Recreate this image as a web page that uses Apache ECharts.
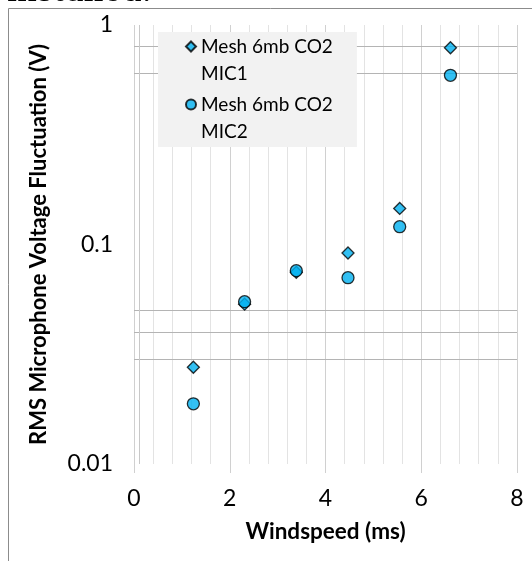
<!DOCTYPE html>
<html>
<head>
<meta charset="utf-8">
<script src="https://cdn.jsdelivr.net/npm/echarts@6/dist/echarts.min.js"></script>
<style>html,body{margin:0;padding:0;background:#fff}#c{width:532px;height:561px}</style>
</head>
<body>
<div id="c"></div>
<script>
var windspeed = [1.24, 2.31, 3.39, 4.47, 5.55, 6.61];
var mic1 = [0.0276, 0.0535, 0.0747, 0.0915, 0.146, 0.788];
var mic2 = [0.0188, 0.0549, 0.0760, 0.0706, 0.1205, 0.590];
var seriesNames = ['Mesh 6mb CO2 MIC1', 'Mesh 6mb CO2 MIC2'];
var yGridValues = [0.03, 0.04, 0.05, 0.6, 0.8];
var xExtraGrid = [0.1];
var xTitle = 'Windspeed (ms)';
var yTitle = 'RMS Microphone Voltage Fluctuation (V)';

var FONT = 'Lato';
function pairs(xs, ys) { return xs.map(function (x, i) { return [x, ys[i]]; }); }

var chart = echarts.init(document.getElementById('c'), null, { renderer: 'canvas' });
var diamondIcon = 'path://M5,8.5L10,13.5L5,18.5L0,13.5Z M5,0L5,0 M5,54L5,54';
var circleIcon = 'path://M0,13.5A5,5,0,1,1,10,13.5A5,5,0,1,1,0,13.5Z M5,0L5,0 M5,54L5,54';

chart.setOption({
  animation: false,
  backgroundColor: '#fff',
  textStyle: { fontFamily: FONT },
  graphic: [
    { type: 'text', left: 7, top: -23, style: { text: 'installed.', font: '31px "DejaVu Serif"', fill: '#000' }, z: 0 },
    { type: 'polyline', shape: { points: [[8.5, 561], [8.5, 8.5], [532, 8.5]] }, style: { stroke: '#8c8c8c', lineWidth: 1, fill: null }, z: 0 }
  ],
  grid: { left: 134, right: 15, top: 25, bottom: 97, containLabel: false },
  legend: {
    orient: 'vertical', left: 158, top: 32,
    backgroundColor: '#f2f2f2',
    padding: [0, 24, 1, 27],
    itemWidth: 10, itemHeight: 54, itemGap: 2,
    data: [
      { name: seriesNames[0], icon: diamondIcon },
      { name: seriesNames[1], icon: circleIcon }
    ],
    formatter: function (n) { return n.replace(' MIC', '\nMIC'); },
    textStyle: { fontFamily: FONT, fontSize: 19, lineHeight: 27, color: '#000' }
  },
  xAxis: {
    type: 'value', min: 0, max: 8, interval: 2,
    name: xTitle, nameLocation: 'middle', nameGap: 56,
    nameTextStyle: { fontFamily: FONT, fontSize: 22.5, fontWeight: 'bold', color: '#000' },
    axisLine: { show: false },
    axisTick: { show: true, length: 9, lineStyle: { color: '#d0d0d0' } },
    axisLabel: { fontFamily: FONT, fontSize: 23, color: '#000', margin: 23 },
    splitLine: { show: true, lineStyle: { color: '#d0d0d0', width: 1 } },
    minorTick: { show: false, splitNumber: 5 },
    minorSplitLine: { show: true, lineStyle: { color: '#e3e3e3', width: 1 } }
  },
  yAxis: {
    type: 'log', logBase: 10, min: 0.01, max: 1,
    name: yTitle, nameLocation: 'middle', nameGap: 84, nameRotate: 90,
    nameTextStyle: { fontFamily: FONT, fontSize: 22, fontWeight: 'bold', color: '#000' },
    axisLine: { show: false }, axisTick: { show: false },
    axisLabel: { fontFamily: FONT, fontSize: 23, color: '#000', margin: 21,
      formatter: function (v) { return v >= 1 ? '1' : (v >= 0.1 ? '0.1' : '0.01'); } },
    splitLine: { show: false }
  },
  series: [
    {
      name: seriesNames[0], type: 'scatter', symbol: 'diamond', symbolSize: 12,
      itemStyle: { color: '#00b0f0', borderColor: '#000', borderWidth: 1.3 },
      data: pairs(windspeed, mic1), z: 3,
      markLine: {
        silent: true, symbol: 'none', label: { show: false },
        lineStyle: { color: '#b4b4b4', type: 'solid', width: 1 },
        data: yGridValues.map(function (v) { return { yAxis: v }; })
          .concat(xExtraGrid.map(function (v) { return { xAxis: v, lineStyle: { color: '#c8c8c8' } }; })),
        z: 1
      }
    },
    {
      name: seriesNames[1], type: 'scatter', symbol: 'circle', symbolSize: 12,
      itemStyle: { color: '#00b0f0', borderColor: '#000', borderWidth: 1.3 },
      data: pairs(windspeed, mic2), z: 4
    }
  ]
});
</script>
</body>
</html>
